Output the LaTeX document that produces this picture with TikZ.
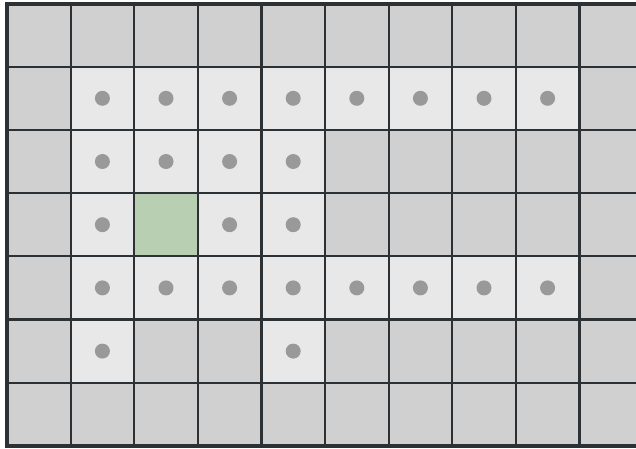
\documentclass[tikz,border=0pt]{standalone}
\definecolor{darkcell}{HTML}{D0D0D0}
\definecolor{lightcell}{HTML}{E8E8E8}
\definecolor{greencell}{HTML}{B8D0B1}
\definecolor{dotgray}{HTML}{999999}
\definecolor{gridline}{HTML}{2B3134}
\tikzset{
  cellfill/.style={fill=#1},
  gridstroke/.style={draw=gridline, line width=2.2pt},
  outerstroke/.style={draw=gridline, line width=4pt},
  dotmark/.style={fill=dotgray},
}
\newcommand{\cw}{63.6}
\newcommand{\chh}{63.2}
\newcommand{\xo}{7}
\newcommand{\yo}{3.5}
\begin{document}
\begin{tikzpicture}[x=1pt,y=-1pt]
\useasboundingbox (0,0) rectangle (636,448);
\clip (0,0) rectangle (636,448);
\fill[white] (0,0) rectangle (636,448);
% dark background cells
\fill[darkcell] (\xo,\yo) rectangle ({\xo+10*\cw},{\yo+7*\chh});
% light cells with dots
\foreach \c/\r in {1/1,2/1,3/1,4/1,5/1,6/1,7/1,8/1,
                   1/2,2/2,3/2,4/2,
                   1/3,3/3,4/3,
                   1/4,2/4,3/4,4/4,5/4,6/4,7/4,8/4,
                   1/5,4/5}{
  \fill[lightcell] ({\xo+\c*\cw},{\yo+\r*\chh}) rectangle ({\xo+(\c+1)*\cw},{\yo+(\r+1)*\chh});
  \fill[dotgray] ({\xo+(\c+0.5)*\cw},{\yo+(\r+0.5)*\chh}) circle (7.5);
}
% green cell
\fill[greencell] ({\xo+2*\cw},{\yo+3*\chh}) rectangle ({\xo+3*\cw},{\yo+4*\chh});
% grid lines
\foreach \c in {1,...,9}{
  \draw[gridstroke] ({\xo+\c*\cw},\yo) -- ({\xo+\c*\cw},{\yo+7*\chh});
}
\foreach \r in {1,...,6}{
  \draw[gridstroke] (\xo,{\yo+\r*\chh}) -- ({\xo+10*\cw},{\yo+\r*\chh});
}
% outer border
\draw[outerstroke] (\xo,\yo) rectangle ({\xo+10*\cw},{\yo+7*\chh});
\end{tikzpicture}
\end{document}
